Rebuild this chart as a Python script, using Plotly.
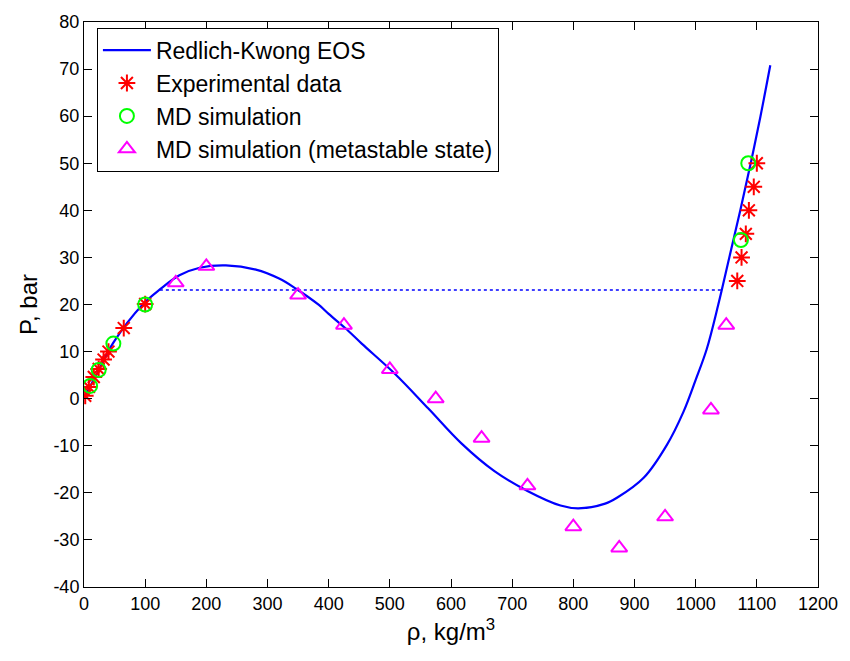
import plotly.graph_objects as go

# Redlich-Kwong EOS curve
rk_rho = [0, 10, 24, 48, 96, 124, 156, 189, 232, 281, 319, 346, 384, 400, 427, 454,
          509, 563, 617, 671, 725, 779, 808, 852, 872, 915, 953, 980, 1000, 1018, 1037,
          1055, 1073, 1090, 1106, 1122]
rk_p = [0, 2.6, 6.0, 11.9, 20.0, 23.2, 26.2, 27.8, 28.3, 27.4, 25.5, 23.4, 19.9, 18.0,
        15.0, 11.7, 5.2, -2.1, -9.5, -15.4, -19.6, -22.7, -23.3, -22.3, -21.0, -16.8,
        -9.8, -2.8, 4.0, 10.5, 20.0, 30.0, 40.0, 50.0, 60.0, 70.8]

# Maxwell (saturation) line
sat_rho = [124, 1042]
sat_p = [23.1, 23.1]

# Experimental data
exp_rho = [2, 8, 16, 24, 32, 40, 65, 100, 1068, 1075, 1082, 1087, 1095, 1100]
exp_p = [0.6, 2.5, 4.6, 6.3, 8.3, 10.0, 15.0, 20.1, 25.0, 30.0, 35.0, 40.0, 45.0, 50.0]

# MD simulation
md_rho = [10, 24, 48, 100, 1074, 1086]
md_p = [2.7, 6.1, 11.7, 20.0, 33.7, 50.0]

# MD simulation (metastable state)
meta_rho = [150, 200, 350, 425, 500, 575, 650, 725, 800, 875, 950, 1025, 1050]
meta_p = [24.6, 28.1, 22.0, 15.6, 6.2, 0.0, -8.4, -18.5, -27.2, -31.7, -25.1, -2.4, 15.6]

x_ticks = list(range(0, 1201, 100))
y_ticks = list(range(-40, 81, 10))

FONT = "Liberation Sans, Arial, Helvetica, sans-serif"

fig = go.Figure()
fig.add_trace(go.Scatter(x=rk_rho, y=rk_p, mode="lines", name="Redlich-Kwong EOS",
                         line=dict(color="#0000FF", width=2.2, shape="spline", smoothing=1.0)))
fig.add_trace(go.Scatter(x=sat_rho, y=sat_p, mode="lines", showlegend=False,
                         line=dict(color="#0000FF", width=1.5, dash="dot")))
fig.add_trace(go.Scatter(x=exp_rho, y=exp_p, mode="markers", name="Experimental data",
                         marker=dict(symbol="asterisk-open", size=14, color="#FF0000",
                                     line=dict(color="#FF0000", width=2))))
fig.add_trace(go.Scatter(x=md_rho, y=md_p, mode="markers", name="MD simulation",
                         marker=dict(symbol="circle-open", size=14, color="#00FF00",
                                     line=dict(color="#00FF00", width=2))))
fig.add_trace(go.Scatter(x=meta_rho, y=meta_p, mode="markers",
                         name="MD simulation (metastable state)",
                         marker=dict(symbol="triangle-up-open", size=14, color="#FF00FF",
                                     line=dict(color="#FF00FF", width=2))))

axis_common = dict(showline=True, linecolor="black", linewidth=1, mirror="ticks",
                   ticks="inside", ticklen=8, tickcolor="black", showgrid=False,
                   zeroline=False, tickfont=dict(family=FONT, size=18, color="black"))

fig.update_xaxes(range=[0, 1200], tickvals=x_ticks, ticktext=[str(v) for v in x_ticks],
                 title=dict(text="ρ, kg/m<sup>3</sup>", font=dict(family=FONT, size=24, color="black"),
                            standoff=10),
                 **axis_common)
fig.update_yaxes(range=[-40, 80], tickvals=y_ticks, ticktext=[str(v) for v in y_ticks],
                 title=dict(text="P, bar", font=dict(family=FONT, size=24, color="black"),
                            standoff=8),
                 **axis_common)

fig.update_layout(
    width=850, height=661,
    margin=dict(l=84, r=28, t=15, b=74),
    paper_bgcolor="white", plot_bgcolor="white",
    font=dict(family=FONT, color="black"),
    legend=dict(x=0.0176, y=0.99, xanchor="left", yanchor="top",
                bgcolor="white", bordercolor="black", borderwidth=1,
                font=dict(family=FONT, size=23, color="black"),
                tracegroupgap=0, itemwidth=48),
)

fig.write_html("out.html")
